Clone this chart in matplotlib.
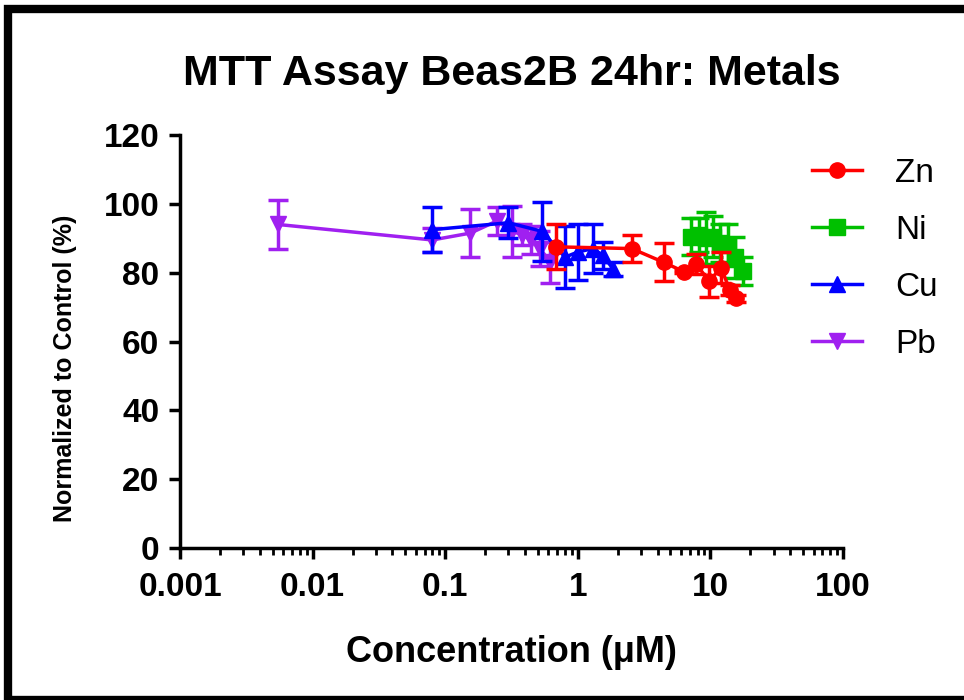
import matplotlib
matplotlib.use("Agg")
import matplotlib.pyplot as plt
import matplotlib.ticker as mticker
from matplotlib.patches import Rectangle
from matplotlib.lines import Line2D

plt.rcParams['font.family'] = ['Liberation Sans', 'DejaVu Sans']

# Zn
zn_x = [0.69, 2.55, 4.45, 6.3, 7.8, 9.8, 12.0, 14.0, 15.5]
zn_y = [87.5, 87.0, 83.0, 80.3, 82.5, 77.5, 81.5, 75.0, 72.5]
zn_err = [6.5, 4.0, 5.5, 0.5, 3.0, 4.5, 4.5, 1.5, 1.0]
# Ni
ni_x = [7.2, 8.2, 9.3, 10.5, 11.8, 13.5, 15.2, 17.5]
ni_y = [90.5, 91.0, 90.0, 90.5, 88.5, 88.0, 84.5, 80.5]
ni_err = [5.5, 5.0, 7.5, 6.0, 5.5, 6.0, 6.0, 4.0]
# Cu
cu_x = [0.08, 0.3, 0.54, 0.8, 1.0, 1.3, 1.55, 1.85]
cu_y = [92.5, 94.5, 92.0, 84.5, 86.0, 87.0, 85.0, 81.0]
cu_err = [6.5, 4.5, 8.5, 9.0, 8.0, 7.0, 4.0, 2.0]
# Pb
pb_x = [0.0055, 0.08, 0.155, 0.245, 0.32, 0.38, 0.44, 0.52, 0.62]
pb_y = [94.0, 89.5, 91.5, 95.0, 92.0, 91.0, 89.5, 87.0, 83.0]
pb_err = [7.0, 3.5, 7.0, 4.0, 7.5, 3.0, 4.0, 5.0, 6.0]

names = ['Zn', 'Ni', 'Cu', 'Pb']
colors = ['#FF0000', '#00C000', '#0000FF', '#A020F0']
markers = ['o', 's', '^', 'v']
xs = [zn_x, ni_x, cu_x, pb_x]
ys = [zn_y, ni_y, cu_y, pb_y]
errs = [zn_err, ni_err, cu_err, pb_err]

fig = plt.figure(figsize=(9.64, 7.0), dpi=100)
ax = fig.add_axes([180/964, 152/700, 663/964, 413/700])

# draw in reverse so Zn sits on top
for i in [3, 2, 1, 0]:
    ax.errorbar(xs[i], ys[i], yerr=errs[i], color=colors[i], marker=markers[i],
                markersize=11, linewidth=2.5, elinewidth=2.5, capsize=7,
                capthick=2.5, zorder=3 + (3 - i))

ax.set_xscale('log')
ax.set_xlim(0.001, 100)
ax.set_ylim(0, 120)
ax.set_yticks(range(0, 121, 20))
ax.xaxis.set_major_locator(mticker.FixedLocator([0.001, 0.01, 0.1, 1, 10, 100]))
ax.xaxis.set_major_formatter(mticker.FixedFormatter(['0.001', '0.01', '0.1', '1', '10', '100']))
ax.xaxis.set_minor_locator(mticker.LogLocator(base=10, subs=range(2, 10)))

for s in ['top', 'right']:
    ax.spines[s].set_visible(False)
for s in ['left', 'bottom']:
    ax.spines[s].set_linewidth(2.5)
ax.tick_params(axis='both', which='major', length=8, width=2.5, labelsize=24, pad=7)
ax.tick_params(axis='x', which='major', pad=9)
ax.tick_params(axis='x', which='minor', length=5, width=2)
for lab in ax.get_xticklabels() + ax.get_yticklabels():
    lab.set_fontweight('bold')

ax.set_title('MTT Assay Beas2B 24hr: Metals', fontsize=31, fontweight='bold', pad=36)
ax.set_xlabel('Concentration (\u03bcM)', fontsize=26, fontweight='bold')
ax.xaxis.set_label_coords(0.5, -0.21)
ax.set_ylabel('Normalized to Control (%)', fontsize=18, fontweight='bold')
ax.yaxis.set_label_coords(-0.155, 0.436)

handles = [Line2D([], [], color=c, marker=m, markersize=11, linewidth=2.5)
           for c, m in zip(colors, markers)]
fig.legend(handles, names, loc='upper left', bbox_to_anchor=(782/964, 1 - 128/700),
           frameon=False, fontsize=24, handlelength=1.5, labelspacing=0.78,
           handletextpad=1.0)

# black frame around the picture
fig.patches.append(Rectangle((8/964, 0), 1, 1 - 9/700, transform=fig.transFigure,
                             fill=False, edgecolor='black', linewidth=6, zorder=10))

fig.savefig('out.png', dpi=100)
